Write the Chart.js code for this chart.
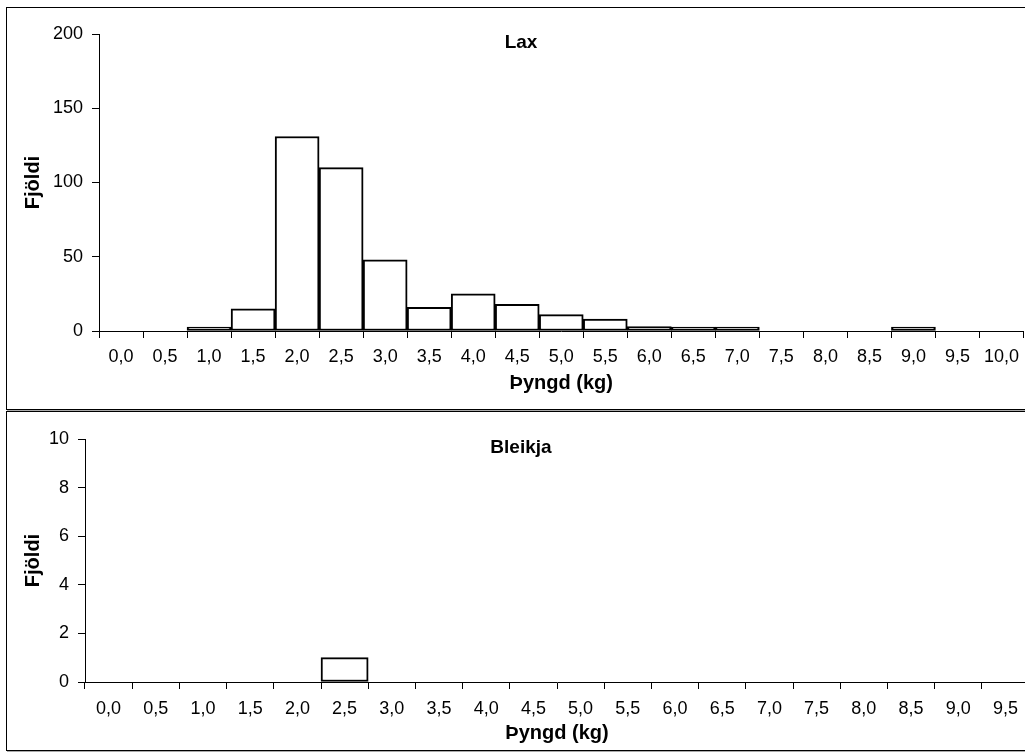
<!DOCTYPE html>
<html>
<head>
<meta charset="utf-8">
<script src="https://cdn.jsdelivr.net/npm/chart.js@4.4.1/dist/chart.umd.min.js"></script>
<style>
  body { margin: 0; background: #fff; width: 1025px; height: 753px; overflow: hidden; position: relative; }
  .panel { position: absolute; left: 6px; width: 1060px; border: 1px solid #000; border-right: none; box-shadow: 1px 1px 0 #aaa; }
  #panel1 { top: 7px; height: 401px; }
  #panel2 { top: 411px; height: 338px; }
  canvas { position: absolute; }
  #laxChart { left: 6px; top: 8px; }
  #bleikjaChart { left: 6px; top: 412px; }
</style>
</head>
<body>
<div class="panel" id="panel1"></div>
<div class="panel" id="panel2"></div>
<canvas id="laxChart" width="1021" height="401"></canvas>
<canvas id="bleikjaChart" width="1023" height="338"></canvas>
<script>
// Weight classes (kg) and counts
const laxLabels = ['0,0', '0,5', '1,0', '1,5', '2,0', '2,5', '3,0', '3,5', '4,0', '4,5', '5,0',
                   '5,5', '6,0', '6,5', '7,0', '7,5', '8,0', '8,5', '9,0', '9,5', '10,0'];
const laxCounts = [0, 0, 1, 15, 131, 110, 48, 16, 25, 18, 11, 8, 3, 1, 1, 0, 0, 0, 1, 0, 0];

const bleikjaLabels = ['0,0', '0,5', '1,0', '1,5', '2,0', '2,5', '3,0', '3,5', '4,0', '4,5',
                       '5,0', '5,5', '6,0', '6,5', '7,0', '7,5', '8,0', '8,5', '9,0', '9,5'];
const bleikjaCounts = [0, 0, 0, 0, 0, 1, 0, 0, 0, 0, 0, 0, 0, 0, 0, 0, 0, 0, 0, 0];

Chart.defaults.font.family = '"Liberation Sans", Arial, sans-serif';
Chart.defaults.color = '#000';

// Draws the panel title inside the plot area
const panelTitle = {
    id: 'panelTitle',
    afterDraw(chart, args, opts) {
        const ctx = chart.ctx;
        ctx.save();
        ctx.font = 'bold 19px "Liberation Sans", Arial, sans-serif';
        ctx.fillStyle = '#000';
        ctx.textAlign = 'center';
        ctx.textBaseline = 'middle';
        ctx.fillText(opts.text, opts.x, opts.y);
        ctx.restore();
    }
};

function makeChart(id, labels, counts, yMax, yStep, title, box) {
    const ctx = document.getElementById(id).getContext('2d');
    return new Chart(ctx, {
        type: 'bar',
        data: {
            labels: labels,
            datasets: [{
                data: counts,
                // empty bins get no visible bar
                backgroundColor: c => c.raw > 0 ? '#fff' : 'rgba(0,0,0,0)',
                borderColor: '#000',
                borderWidth: c => c.raw > 0 ? 2 : 0,
                borderSkipped: false,
                minBarLength: 4,
                barPercentage: 1,
                categoryPercentage: 1
            }]
        },
        options: {
            responsive: false,
            animation: false,
            layout: { padding: { top: box.top, left: 0, right: 0, bottom: 0 } },
            plugins: {
                legend: { display: false },
                tooltip: { enabled: false },
                panelTitle: { text: title, x: 515, y: box.titleY }
            },
            scales: {
                x: {
                    offset: true,
                    grid: { offset: true, drawOnChartArea: false, tickLength: 7, color: '#000' },
                    border: { color: '#000', width: 1 },
                    ticks: { font: { size: 18 }, padding: box.xTickPad, maxRotation: 0, autoSkip: false },
                    title: {
                        display: true, text: 'Þyngd (kg)',
                        font: { size: 20, weight: 'bold' },
                        padding: { top: 0, bottom: box.xTitlePad }
                    },
                    afterFit: scale => { scale.height = box.xHeight; }
                },
                y: {
                    min: 0, max: yMax,
                    grid: { drawOnChartArea: false, tickLength: 7, color: '#000' },
                    border: { color: '#000', width: 1 },
                    ticks: { stepSize: yStep, font: { size: 18 }, padding: 9 },
                    title: {
                        display: true, text: 'Fjöldi',
                        font: { size: 20, weight: 'bold' },
                        padding: { top: 15, bottom: 0 }
                    },
                    afterFit: scale => { scale.width = box.yWidth; }
                }
            }
        },
        plugins: [panelTitle]
    });
}

makeChart('laxChart', laxLabels, laxCounts, 200, 50, 'Lax',
    { top: 26, yWidth: 93, xHeight: 78, xTickPad: 8, xTitlePad: 14, titleY: 35 });
makeChart('bleikjaChart', bleikjaLabels, bleikjaCounts, 10, 2, 'Bleikja',
    { top: 27, yWidth: 79, xHeight: 68, xTickPad: 9, xTitlePad: 5, titleY: 36 });
</script>
</body>
</html>
